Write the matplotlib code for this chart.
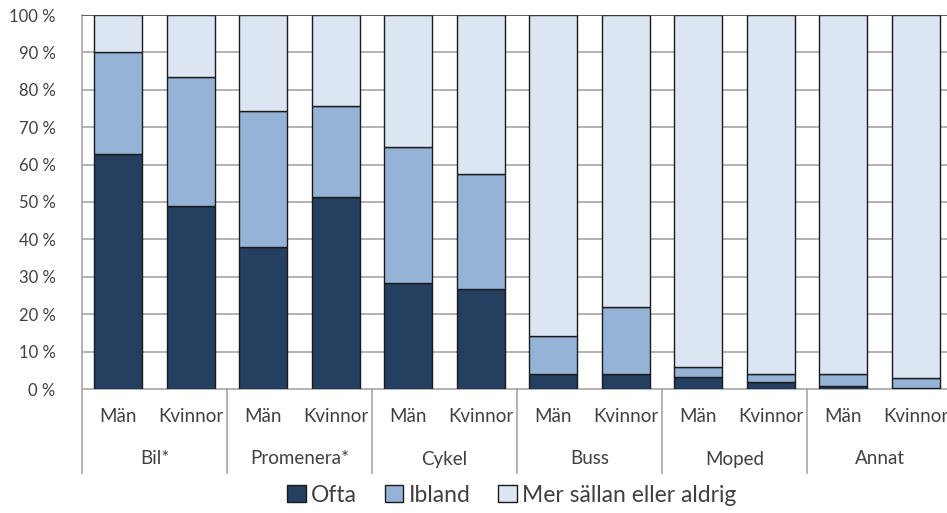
import matplotlib
matplotlib.use("Agg")
import matplotlib.pyplot as plt
from matplotlib.patches import Patch
from matplotlib.lines import Line2D
import matplotlib.transforms as mtransforms

categories = ["Bil*", "Promenera*", "Cykel", "Buss", "Moped", "Annat"]
genders = ["Män", "Kvinnor"]
series_names = ["Ofta", "Ibland", "Mer sällan eller aldrig"]

ofta = [62.8, 48.9, 38.0, 51.3, 28.3, 26.7, 4.0, 4.0, 3.3, 2.0, 0.9, 0.3]
ibland = [27.4, 34.5, 36.3, 24.4, 36.4, 30.8, 10.2, 17.9, 2.5, 2.0, 3.2, 2.6]
sallan = [100 - a - b for a, b in zip(ofta, ibland)]

colors = ["#243F60", "#95B3D7", "#DCE6F2"]
edge = "#1a1a1a"
text_color = "#404040"

plt.rcParams['font.family'] = ['Lato', 'DejaVu Sans']

W, H = 947, 513
fig = plt.figure(figsize=(W / 100, H / 100), dpi=100)
x0, x1 = 82, 952
y_top, y_bot = 15, 389
ax = fig.add_axes([x0 / W, 1 - y_bot / H, (x1 - x0) / W, (y_bot - y_top) / H])

n = len(ofta)
xs = [i + 0.5 for i in range(n)]
bw = 48 / 72.5

bottoms = [0] * n
for vals, col in zip([ofta, ibland, sallan], colors):
    ax.bar(xs, vals, bw, bottom=bottoms, color=col, edgecolor=edge, linewidth=1.0, zorder=3)
    bottoms = [b + v for b, v in zip(bottoms, vals)]

ax.set_xlim(0, n)
ax.set_ylim(0, 100)
ax.set_yticks(range(0, 101, 10))
ax.set_yticklabels([f"{v} %" for v in range(0, 101, 10)], fontsize=12, color=text_color)
ax.tick_params(axis='y', length=0, pad=19)
ax.tick_params(axis='x', length=0)
ax.set_xticks([])

for v in range(10, 100, 10):
    ax.axhline(v, color="#A6A6A6", linewidth=1.2, zorder=1)
ax.axhline(100, color="#404040", linewidth=1.2, zorder=4)

for s in ["top", "right"]:
    ax.spines[s].set_visible(False)
for s in ["left", "bottom"]:
    ax.spines[s].set_color("#A6A6A6")
    ax.spines[s].set_linewidth(1.2)

trans = mtransforms.blended_transform_factory(ax.transData, ax.transAxes)
sep_bottom = -(473 - y_bot) / (y_bot - y_top)
for k in range(len(categories) + 1):
    ax.add_line(Line2D([2 * k, 2 * k], [0, sep_bottom], transform=trans,
                       color="#A6A6A6", linewidth=1.2, clip_on=False))

y_g = -(417 - y_bot) / (y_bot - y_top)
y_c = -(459 - y_bot) / (y_bot - y_top)
for i in range(n):
    ax.text(xs[i], y_g, genders[i % 2], transform=trans, ha='center', va='center',
            fontsize=13.5, color=text_color)
for k, c in enumerate(categories):
    ax.text(2 * k + 1, y_c, c, transform=trans, ha='center', va='center',
            fontsize=13.5, color=text_color)

handles = [Patch(facecolor=c, edgecolor=edge, linewidth=1.0) for c in colors]
fig.legend(handles, series_names, loc='center', bbox_to_anchor=(512 / W, 1 - 495 / H),
           ncol=3, frameon=False, fontsize=16.5, handlelength=0.8, handleheight=0.8,
           handletextpad=0.25, columnspacing=1.2, labelcolor=text_color,
           borderpad=0.1)

fig.savefig("out.png", dpi=100)
